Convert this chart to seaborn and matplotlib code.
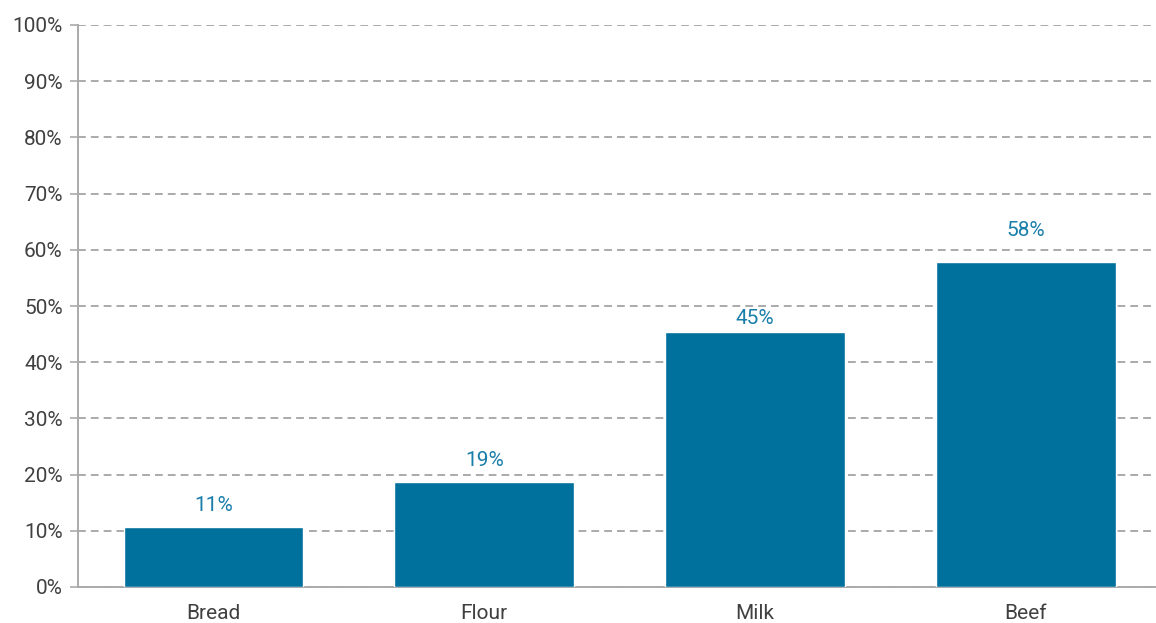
import matplotlib
matplotlib.use("Agg")
import matplotlib.pyplot as plt
import seaborn as sns
import pandas as pd
from matplotlib.ticker import FuncFormatter

categories = ["Bread", "Flour", "Milk", "Beef"]
values = [10.7, 18.6, 45.3, 57.8]
labels = ["11%", "19%", "45%", "58%"]

# label offsets above bar tops (points) - layout only
label_offsets = [15.5, 15.5, 10, 22.5]

df = pd.DataFrame({"cat": categories, "val": values})

sns.set_theme(style="white")
plt.rcParams['font.family'] = ['Roboto', 'DejaVu Sans']

fig = plt.figure(figsize=(11.56, 6.23), dpi=100)
ax = fig.add_axes([78/1156, 1-587/623, 1-78/1156, (587-25)/623])

sns.barplot(data=df, x="cat", y="val", color="#00709c", width=0.664,
            saturation=1, ax=ax, zorder=3)

for i, (v, l, off) in enumerate(zip(values, labels, label_offsets)):
    ax.annotate(l, (i, v), xytext=(0, off), textcoords="offset points",
                ha="center", va="center", color="#1a7eaa", fontsize=15)

ax.set_ylim(0, 100)
ax.set_xlim(-0.5, 3.48)
ax.set_yticks(range(0, 101, 10))
ax.yaxis.set_major_formatter(FuncFormatter(lambda v, p: f"{int(v)}%"))
ax.set_xlabel("")
ax.set_ylabel("")
ax.grid(axis="y", linestyle=(0, (4, 2.6)), color="#aaaaaa", linewidth=1.4, zorder=0)
ax.grid(axis="x", visible=False)
for s in ["top", "right"]:
    ax.spines[s].set_visible(False)
for s in ["left", "bottom"]:
    ax.spines[s].set_color("#aaaaaa")
    ax.spines[s].set_linewidth(1.4)
ax.tick_params(axis="y", length=6, color="#aaaaaa", width=1.2, labelsize=15,
               labelcolor="#404040", pad=5, left=True)
ax.tick_params(axis="x", length=0, labelsize=15, labelcolor="#404040", pad=12)

fig.savefig("out.png", dpi=100)
